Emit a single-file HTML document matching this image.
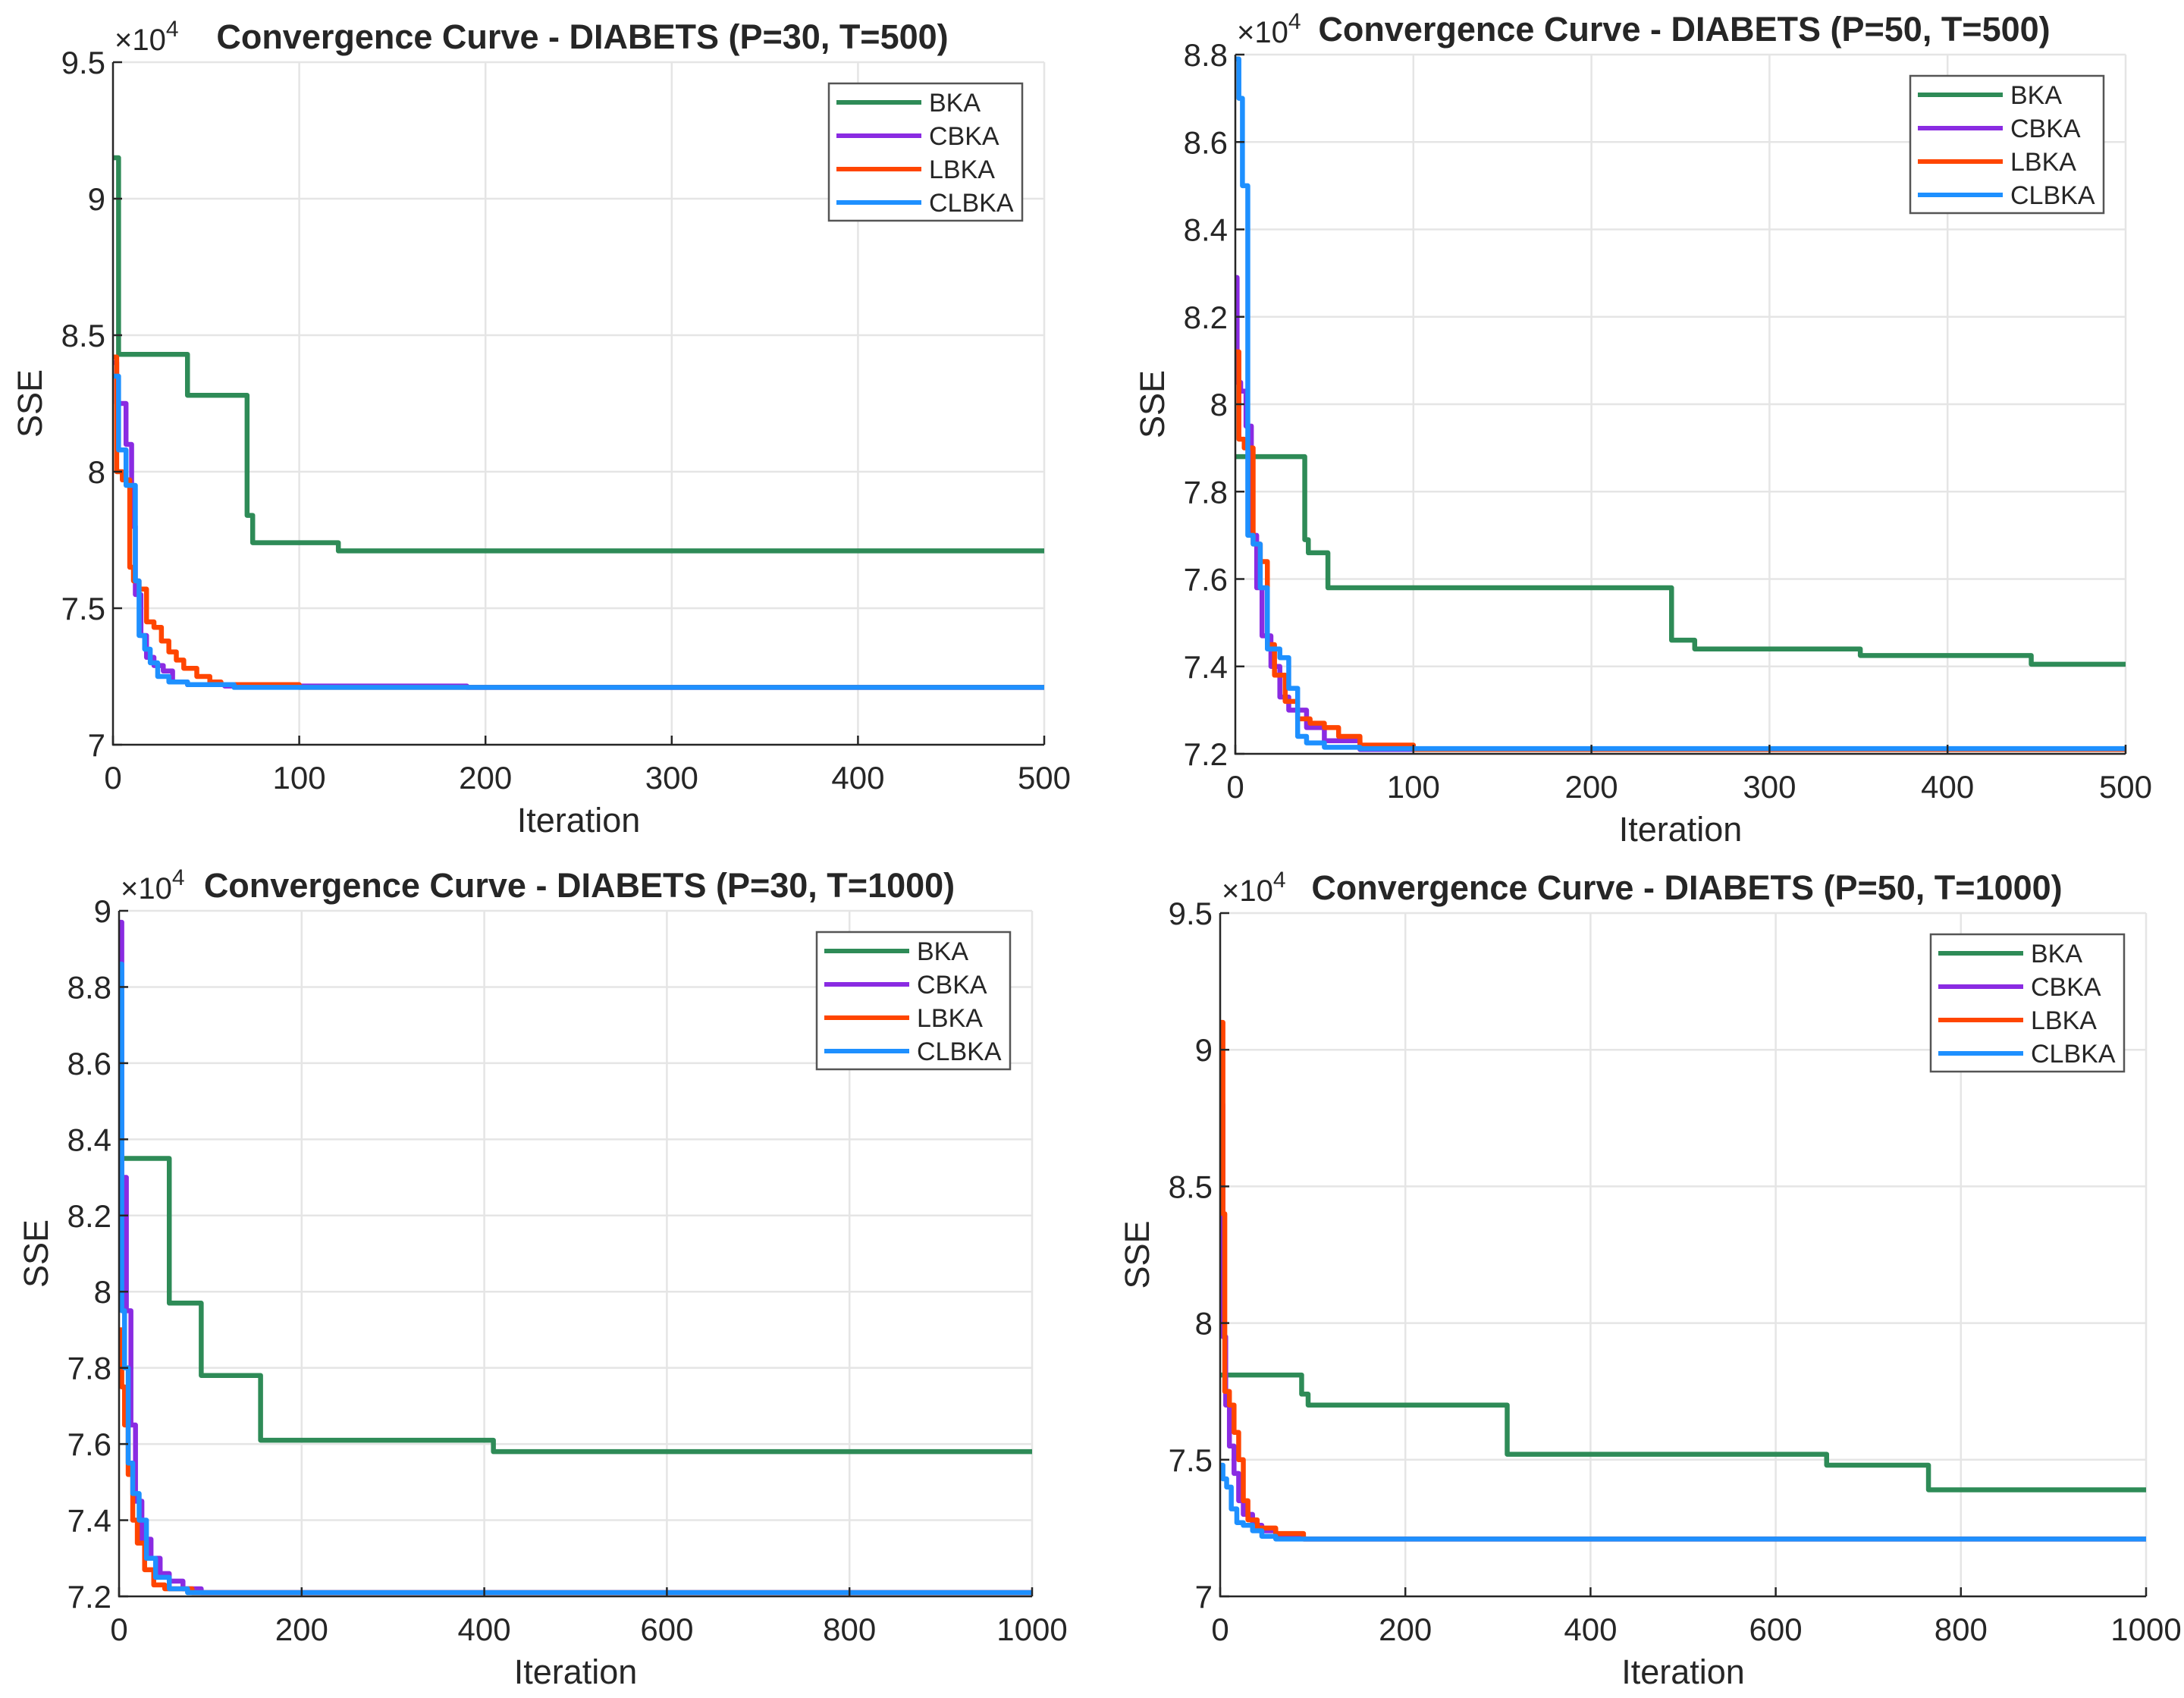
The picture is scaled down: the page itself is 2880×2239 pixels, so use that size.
<!DOCTYPE html>
<html><head><meta charset="utf-8"><style>
html,body{margin:0;padding:0;background:#fff}
svg{display:block}
text{font-family:"Liberation Sans",Arial,sans-serif;fill:#262626}
</style></head><body>
<svg id="fig" xmlns="http://www.w3.org/2000/svg" width="2880" height="2239" viewBox="0 0 2880 2239"></svg>
<script>
// ---- Data (iteration at which value starts, value in x10^4) ----
const p1Title = "Convergence Curve - DIABETS (P=30, T=500)";
const p1YTicks = [7, 7.5, 8, 8.5, 9, 9.5];
const p1XTicks = [0, 100, 200, 300, 400, 500];
const p1BkaIt = [0, 3, 40, 72, 75, 121, 500];
const p1BkaV = [9.15, 8.43, 8.28, 7.84, 7.74, 7.71, 7.71];
const p1CbkaIt = [0, 2, 7, 10, 12, 15, 18, 22, 27, 32, 40, 60, 190, 500];
const p1CbkaV = [8.40, 8.25, 8.10, 7.80, 7.55, 7.40, 7.32, 7.29, 7.27, 7.23, 7.22, 7.215, 7.21, 7.21];
const p1LbkaIt = [0, 2, 5, 9, 11, 14, 18, 22, 26, 30, 34, 38, 45, 52, 58, 100, 500];
const p1LbkaV = [8.42, 8.00, 7.97, 7.65, 7.60, 7.57, 7.45, 7.43, 7.38, 7.34, 7.31, 7.28, 7.25, 7.23, 7.22, 7.21, 7.21];
const p1ClbkaIt = [0, 3, 7, 12, 14, 17, 20, 24, 30, 40, 65, 500];
const p1ClbkaV = [8.35, 8.08, 7.95, 7.60, 7.40, 7.35, 7.30, 7.25, 7.23, 7.22, 7.21, 7.21];

const p2Title = "Convergence Curve - DIABETS (P=50, T=500)";
const p2YTicks = [7.2, 7.4, 7.6, 7.8, 8, 8.2, 8.4, 8.6, 8.8];
const p2XTicks = [0, 100, 200, 300, 400, 500];
const p2BkaIt = [0, 39, 41, 52, 245, 258, 351, 447, 500];
const p2BkaV = [7.88, 7.69, 7.66, 7.58, 7.46, 7.44, 7.425, 7.405, 7.405];
const p2CbkaIt = [0, 1, 3, 6, 9, 12, 15, 20, 25, 30, 40, 50, 70, 500];
const p2CbkaV = [8.29, 8.05, 8.03, 7.95, 7.70, 7.58, 7.47, 7.40, 7.33, 7.30, 7.26, 7.23, 7.21, 7.21];
const p2LbkaIt = [0, 2, 5, 10, 14, 18, 22, 28, 35, 42, 50, 58, 70, 100, 500];
const p2LbkaV = [8.12, 7.92, 7.90, 7.68, 7.64, 7.45, 7.38, 7.32, 7.28, 7.27, 7.26, 7.24, 7.22, 7.21, 7.21];
const p2ClbkaIt = [0, 2, 4, 7, 10, 14, 18, 25, 30, 35, 40, 50, 70, 500];
const p2ClbkaV = [8.79, 8.70, 8.50, 7.70, 7.68, 7.58, 7.44, 7.42, 7.35, 7.24, 7.225, 7.215, 7.212, 7.212];

const p3Title = "Convergence Curve - DIABETS (P=30, T=1000)";
const p3YTicks = [7.2, 7.4, 7.6, 7.8, 8, 8.2, 8.4, 8.6, 8.8, 9];
const p3XTicks = [0, 200, 400, 600, 800, 1000];
const p3BkaIt = [0, 55, 90, 155, 410, 1000];
const p3BkaV = [8.35, 7.97, 7.78, 7.61, 7.58, 7.58];
const p3CbkaIt = [0, 3, 8, 13, 18, 25, 35, 45, 55, 70, 90, 1000];
const p3CbkaV = [8.97, 8.30, 7.95, 7.65, 7.45, 7.35, 7.30, 7.26, 7.24, 7.22, 7.21, 7.21];
const p3LbkaIt = [0, 3, 6, 10, 15, 20, 28, 38, 50, 80, 1000];
const p3LbkaV = [7.90, 7.75, 7.65, 7.52, 7.40, 7.34, 7.27, 7.23, 7.22, 7.21, 7.21];
const p3ClbkaIt = [0, 3, 6, 10, 15, 22, 30, 40, 55, 75, 1000];
const p3ClbkaV = [8.86, 7.95, 7.80, 7.55, 7.47, 7.40, 7.30, 7.25, 7.22, 7.21, 7.21];

const p4Title = "Convergence Curve - DIABETS (P=50, T=1000)";
const p4YTicks = [7, 7.5, 8, 8.5, 9, 9.5];
const p4XTicks = [0, 200, 400, 600, 800, 1000];
const p4BkaIt = [0, 88, 95, 310, 655, 765, 1000];
const p4BkaV = [7.81, 7.74, 7.70, 7.52, 7.48, 7.39, 7.39];
const p4CbkaIt = [0, 3, 6, 10, 15, 20, 25, 35, 45, 60, 90, 1000];
const p4CbkaV = [8.80, 7.95, 7.70, 7.55, 7.45, 7.35, 7.30, 7.26, 7.24, 7.22, 7.21, 7.21];
const p4LbkaIt = [0, 3, 5, 10, 15, 20, 25, 30, 40, 60, 90, 1000];
const p4LbkaV = [9.10, 8.40, 7.75, 7.70, 7.60, 7.50, 7.35, 7.28, 7.25, 7.23, 7.21, 7.21];
const p4ClbkaIt = [0, 3, 7, 12, 18, 25, 35, 45, 60, 1000];
const p4ClbkaV = [7.48, 7.43, 7.40, 7.32, 7.27, 7.26, 7.24, 7.22, 7.21, 7.21];

const seriesNames = ["BKA", "CBKA", "LBKA", "CLBKA"];
const seriesColors = ["#2e8b57", "#8a2be2", "#ff4500", "#1e90ff"];

const NS = "http://www.w3.org/2000/svg";
const svg = document.getElementById("fig");
function mk(tag, attrs, parent) {
  const e = document.createElementNS(NS, tag);
  for (const k in attrs) e.setAttribute(k, attrs[k]);
  (parent || svg).appendChild(e);
  return e;
}

function drawPanel(id, box, title, xTicks, yTicks, series) {
  const g = mk("g", {});
  
  
  const xMin = xTicks[0], xMax = xTicks[xTicks.length - 1];
  const yMin = yTicks[0], yMax = yTicks[yTicks.length - 1];
  const sx = v => box.l + (v - xMin) / (xMax - xMin) * (box.r - box.l);
  const sy = v => box.b - (v - yMin) / (yMax - yMin) * (box.b - box.t);
  xTicks.forEach(t => {
    const ln = mk("line", {x1: sx(t), x2: sx(t), y1: box.t, y2: box.b, stroke: "#e5e5e5", "stroke-width": 2.5}, g);
    
    
  });
  yTicks.forEach(t => {
    const ln = mk("line", {x1: box.l, x2: box.r, y1: sy(t), y2: sy(t), stroke: "#e5e5e5", "stroke-width": 2.5}, g);
    
    
  });
  series.forEach((s, i) => {
    let d = "";
    for (let k = 0; k < s.it.length; k++) {
      const x = sx(s.it[k]), y = sy(s.v[k]);
      if (k === 0) d += "M" + x + " " + y;
      else d += " H" + x + " V" + y;
    }
    const p = mk("path", {d: d, fill: "none", stroke: seriesColors[i], "stroke-width": 6.5, "stroke-linejoin": "round"}, g);
    
    
  });
  const ax = mk("path", {d: "M" + box.l + " " + box.t + " V" + box.b + " H" + box.r, fill: "none", stroke: "#262626", "stroke-width": 2.5}, g);
  
  
  xTicks.forEach(t => {
    mk("line", {x1: sx(t), x2: sx(t), y1: box.b, y2: box.b - 12, stroke: "#262626", "stroke-width": 2.5}, g);
    const tx = mk("text", {x: sx(t), y: box.b + 58, "font-size": 42, "text-anchor": "middle"}, g);
    tx.textContent = t;
    
    
  });
  yTicks.forEach(t => {
    mk("line", {x1: box.l, x2: box.l + 12, y1: sy(t), y2: sy(t), stroke: "#262626", "stroke-width": 2.5}, g);
    const tx = mk("text", {x: box.l - 10, y: sy(t) + 15, "font-size": 42, "text-anchor": "end"}, g);
    tx.textContent = t;
    
    
  });
  const ex = mk("text", {x: box.l + 2, y: box.t - 16, "font-size": 40, fill: "#555"}, g);
  ex.innerHTML = "×10<tspan dy='-18' font-size='30'>4</tspan>";
  
  
  const ti = mk("text", {x: (box.l + box.r) / 2 + 5, y: box.t - 18, "font-size": 45, "font-weight": "bold", "text-anchor": "middle", fill: "#000"}, g);
  ti.textContent = title;
  
  
  const xl = mk("text", {x: (box.l + box.r) / 2, y: box.b + 115, "font-size": 45, "text-anchor": "middle"}, g);
  xl.textContent = "Iteration";
  
  
  const cy = (box.t + box.b) / 2, cx = box.l - 110;
  const yl = mk("text", {x: cx, y: cy, "font-size": 45, "text-anchor": "middle", transform: "rotate(-90 " + cx + " " + cy + ") translate(0 16)"}, g);
  yl.textContent = "SSE";
  
  
  const lw = 255, lh = 181, lx = box.r - 29 - lw, ly = box.t + 28;
  const lg = mk("g", {}, g);
  
  
  mk("rect", {x: lx, y: ly, width: lw, height: lh, fill: "#fff", stroke: "#555", "stroke-width": 2.5}, lg);
  seriesNames.forEach((n, i) => {
    const yy = ly + 25 + i * 44;
    const e = mk("g", {}, lg);
    
    
    mk("line", {x1: lx + 10, x2: lx + 122, y1: yy, y2: yy, stroke: seriesColors[i], "stroke-width": 6}, e);
    const t = mk("text", {x: lx + 132, y: yy + 12, "font-size": 34}, e);
    t.textContent = n;
  });
}

drawPanel("panel-p30-t500", {l: 149, r: 1377, t: 82, b: 982}, p1Title, p1XTicks, p1YTicks, [
  {it: p1BkaIt, v: p1BkaV}, {it: p1CbkaIt, v: p1CbkaV}, {it: p1LbkaIt, v: p1LbkaV}, {it: p1ClbkaIt, v: p1ClbkaV}]);
drawPanel("panel-p50-t500", {l: 1629, r: 2803, t: 72, b: 994}, p2Title, p2XTicks, p2YTicks, [
  {it: p2BkaIt, v: p2BkaV}, {it: p2CbkaIt, v: p2CbkaV}, {it: p2LbkaIt, v: p2LbkaV}, {it: p2ClbkaIt, v: p2ClbkaV}]);
drawPanel("panel-p30-t1000", {l: 157, r: 1361, t: 1201, b: 2105}, p3Title, p3XTicks, p3YTicks, [
  {it: p3BkaIt, v: p3BkaV}, {it: p3CbkaIt, v: p3CbkaV}, {it: p3LbkaIt, v: p3LbkaV}, {it: p3ClbkaIt, v: p3ClbkaV}]);
drawPanel("panel-p50-t1000", {l: 1609, r: 2830, t: 1204, b: 2105}, p4Title, p4XTicks, p4YTicks, [
  {it: p4BkaIt, v: p4BkaV}, {it: p4CbkaIt, v: p4CbkaV}, {it: p4LbkaIt, v: p4LbkaV}, {it: p4ClbkaIt, v: p4ClbkaV}]);
</script>
</body></html>
